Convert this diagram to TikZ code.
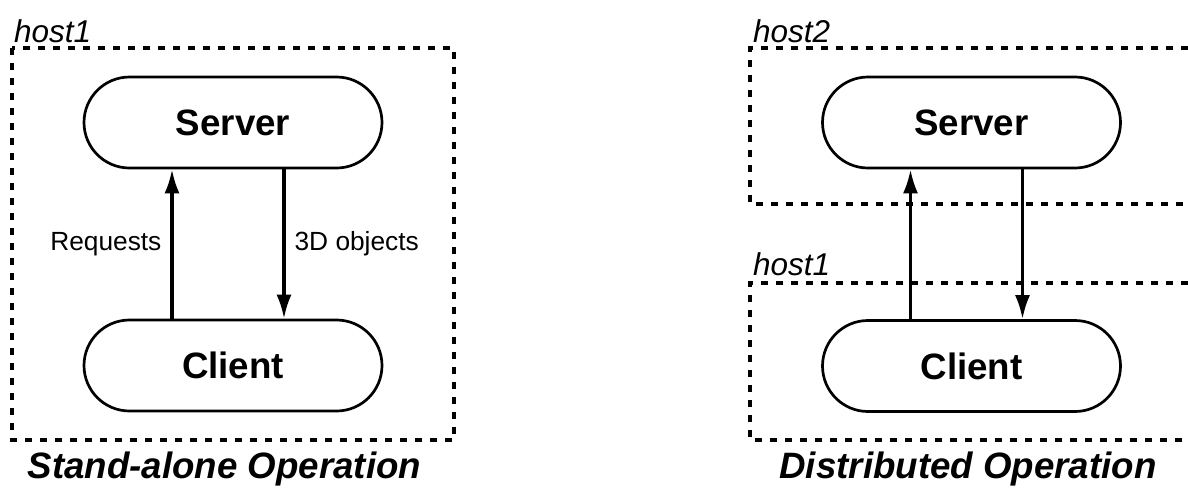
\documentclass[tikz,border=0pt]{standalone}
\usepackage{fontspec}
\setmainfont{Liberation Sans}
\usetikzlibrary{shapes.misc,arrows.meta}

\begin{document}
\begin{tikzpicture}[x=1pt, y=-1pt,
		proc/.style={draw, rounded rectangle, line width=2.7pt, minimum width=298pt, minimum height=91pt, inner sep=0pt, font=\fontsize{36.7}{40}\selectfont\bfseries},
		hostbox/.style={line width=3.2pt, dash pattern=on 7pt off 8pt},
		hostlabel/.style={anchor=base west, inner sep=0pt, font=\fontsize{31.5}{34}\selectfont\itshape},
		msg/.style={line width=3.2pt, -{Latex[length=24pt,width=15pt]}},
		msglabel/.style={inner sep=9pt, font=\fontsize{26.3}{30}\selectfont},
		title/.style={anchor=base, inner sep=0pt, font=\fontsize{36.7}{40}\selectfont\bfseries\itshape}]
		\useasboundingbox (0, 0) rectangle (1188, 488);
	
		% stand-alone
		\draw[hostbox] (12, 48) rectangle (454, 440);
		\node[hostlabel] (hostA) at (14, 42.5) {host1};
		\node[proc] (serverA) at (233, 122.5) {Server};
		\node[proc] (clientA) at (233, 365.5) {Client};
		\draw[msg] ([xshift=-61pt]clientA.north) -- ([xshift=-61pt]serverA.south) node[midway, left, msglabel]{Requests};
		\draw[msg] ([xshift=51pt]serverA.south) -- ([xshift=51pt]clientA.north) node[midway, right, msglabel]{3D objects};
		\node[title] (titleA) at (224.5, 478) {Stand-alone Operation};
	
		% distributed
		\draw[hostbox] (1188, 48) -- (750, 48) -- (750, 204) -- (1188, 204);
		\draw[hostbox] (1188, 283) -- (750, 283) -- (750, 440) -- (1188, 440);
		\node[hostlabel] (hostC) at (753, 42.5) {host2};
		\node[hostlabel] (hostB) at (753, 275) {host1};
		\node[proc] (serverB) at (971.5, 122.5) {Server};
		\node[proc] (clientB) at (971.5, 366) {Client};
		\draw[msg] ([xshift=-61pt]clientB.north) -- ([xshift=-61pt]serverB.south);
		\draw[msg] ([xshift=51pt]serverB.south) -- ([xshift=51pt]clientB.north);
		\node[title] (titleB) at (968, 478) {Distributed Operation};
	\end{tikzpicture}
\end{document}
